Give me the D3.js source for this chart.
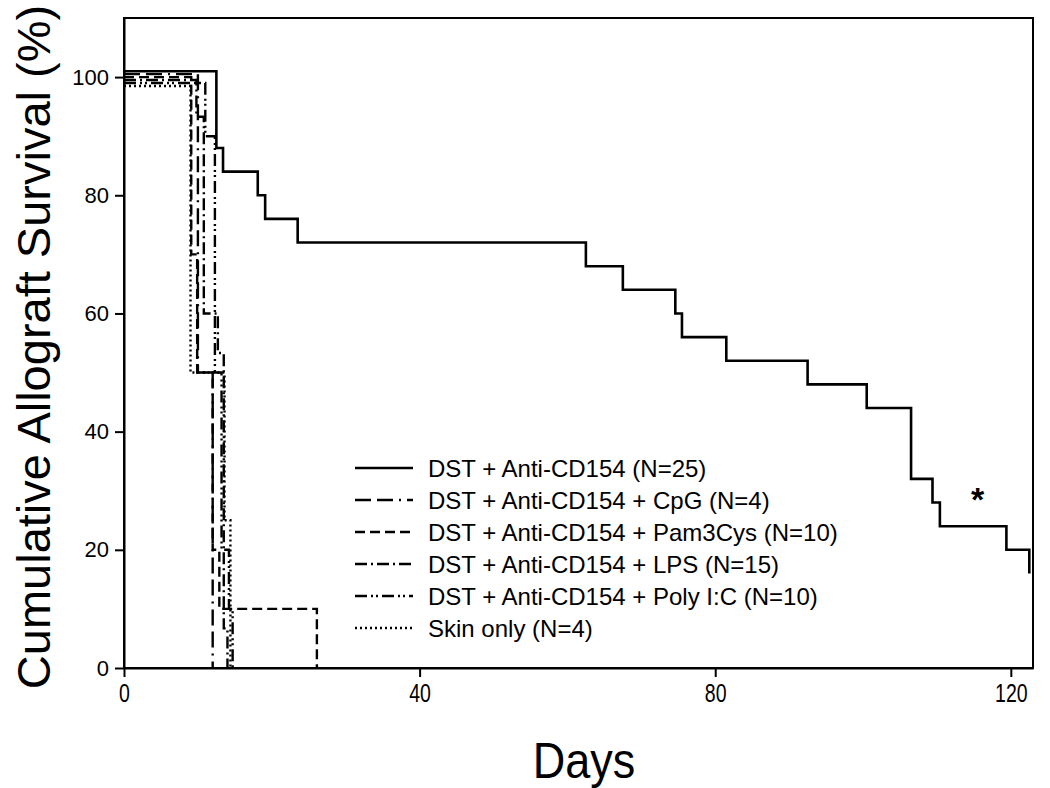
<!DOCTYPE html>
<html><head><meta charset="utf-8">
<script src="https://d3js.org/d3.v7.min.js"></script>
<style>
body{margin:0;background:#fff;}
svg{display:block;font-family:"Liberation Sans",Arial,sans-serif;}
</style></head>
<body>
<svg id="chart" width="1050" height="788"></svg>
<script>
// Series: step points [day, survival %] (value after each event)
const seriesNames = [
  "DST + Anti-CD154 (N=25)",
  "DST + Anti-CD154 + CpG (N=4)",
  "DST + Anti-CD154 + Pam3Cys (N=10)",
  "DST + Anti-CD154 + LPS (N=15)",
  "DST + Anti-CD154 + Poly I:C (N=10)",
  "Skin only (N=4)"
];
const dstAnti = [[0,101],[12.5,88],[13.4,84],[18.1,80],[19.1,76],[23.5,72],[62.5,68],[67.5,64],[74.6,60],[75.5,56],[81.5,52],[92.5,48],[100.5,44],[106.5,32],[109.4,28],[110.4,24],[119.4,20],[122.5,16]];
const dstAntiEnd = 122.5;
const cpg = [[0,100.5],[10.0,50],[12.0,0]];
const pam3cys = [[0,100],[9.1,70],[9.9,50],[12.0,20],[12.9,10],[26.1,0]];
const lps = [[0,99.5],[9.8,93.3],[10.8,60],[12.7,53.3],[13.5,6.7],[14.0,0]];
const polyIC = [[0,99],[11.0,90],[12.3,50],[13.2,20],[14.2,10],[14.7,0]];
const skinOnly = [[0,98.5],[9.0,50],[13.6,25],[14.4,0]];
const xTicks = [0,40,80,120];
const yTicks = [0,20,40,60,80,100];

const allSeries = [dstAnti, cpg, pam3cys, lps, polyIC, skinOnly];
const ends = [dstAntiEnd, null, null, null, null, null];
const dashes = ["none","16,6,16,6,2,6","10,5","12,4,2,4","12,4,2,3,2,4","2,3"];

const svg = d3.select("#chart");
const L=124, R=1033, T=18, B=668;
const x = d3.scaleLinear().domain([0,123]).range([L,R]);
const y = d3.scaleLinear().domain([0,110]).range([B,T]);

// frame
svg.append("rect").attr("x",L).attr("y",T).attr("width",R-L).attr("height",B-T)
  .attr("fill","none").attr("stroke","#000").attr("stroke-width",2);

// axes
const xAxis = svg.append("g").attr("transform",`translate(0,${B})`)
  .call(d3.axisBottom(x).tickValues(xTicks).tickSize(9).tickSizeOuter(0).tickPadding(7));
xAxis.select(".domain").attr("stroke-width",2);
xAxis.selectAll(".tick line").attr("stroke-width",2);
xAxis.selectAll("text").attr("font-size",25).attr("fill","#000")
  .attr("transform","scale(0.78,1)");

const yAxis = svg.append("g").attr("transform",`translate(${L},0)`)
  .call(d3.axisLeft(y).tickValues(yTicks).tickSize(9).tickSizeOuter(0).tickPadding(6));
yAxis.select(".domain").attr("stroke-width",2);
yAxis.selectAll(".tick line").attr("stroke-width",2);
yAxis.selectAll("text").attr("font-size",22).attr("fill","#000");

// titles
svg.append("text").attr("transform","translate(584,778) scale(0.9,1)").attr("text-anchor","middle")
  .attr("font-size",50).text("Days");
svg.append("text").attr("transform","translate(50,347) rotate(-90)").attr("text-anchor","middle")
  .attr("font-size",47).text("Cumulative Allograft Survival (%)");

// step curves
function stepPath(pts, endDay){
  const p = d3.path();
  p.moveTo(x(pts[0][0]), y(pts[0][1]));
  for(let i=1;i<pts.length;i++){
    p.lineTo(x(pts[i][0]), y(pts[i-1][1]));
    p.lineTo(x(pts[i][0]), y(pts[i][1]));
  }
  if(endDay!=null) p.lineTo(x(endDay), y(pts[pts.length-1][1]));
  return p.toString();
}
allSeries.forEach((s,i)=>{
  svg.append("path").attr("d",stepPath(s,ends[i])).attr("fill","none")
    .attr("stroke","#000").attr("stroke-width",i===0?2.6:2.4)
    .attr("stroke-dasharray",dashes[i]).attr("stroke-linejoin","miter");
});

// legend
const lg = svg.append("g");
seriesNames.forEach((n,i)=>{
  const yy = 468 + i*32;
  lg.append("line").attr("x1",355).attr("x2",413).attr("y1",yy).attr("y2",yy)
    .attr("stroke","#000").attr("stroke-width",2.4).attr("stroke-dasharray",dashes[i]);
  lg.append("text").attr("x",428).attr("y",yy+9).attr("font-size",24).text(n);
});

// significance mark
svg.append("text").attr("x",x(115.5)).attr("y",y(26.5)).attr("text-anchor","middle")
  .attr("font-size",34).attr("font-weight","bold").text("*");
</script>
</body></html>
